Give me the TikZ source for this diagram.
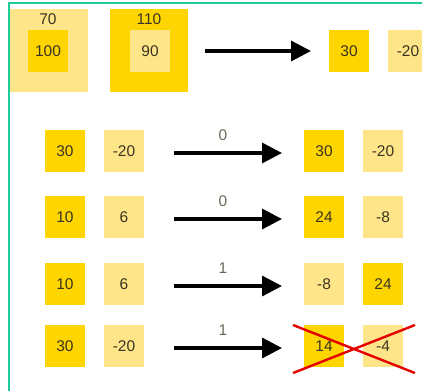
\documentclass[tikz,border=0pt]{standalone}
\usepackage{fontspec}
\setmainfont{Liberation Sans}
\usetikzlibrary{arrows.meta}
\definecolor{gold}{HTML}{FFD500}
\definecolor{pale}{HTML}{FFE58A}
\definecolor{frame}{HTML}{1FCB9B}
\definecolor{ink}{HTML}{3A3420}
\tikzset{
  dk/.style={fill=gold, draw=none, minimum width=40pt, minimum height=42pt, inner sep=0pt, text=ink, font=\fontsize{15.5pt}{16pt}\selectfont},
  lt/.style={dk, fill=pale},
  big/.style={draw=none, minimum width=78pt, minimum height=83pt, inner sep=0pt},
  lbl/.style={text=ink, font=\fontsize{15.5pt}{16pt}\selectfont, inner sep=0pt},
  arr/.style={line width=3.3pt, -{Triangle[length=20pt,width=20pt]}, black},
  cross/.style={red!90!black, line width=2.4pt},
}
\begin{document}
\begin{tikzpicture}[x=1pt,y=-1pt]
\useasboundingbox (0,0) rectangle (422,390);
\begin{scope}
\clip (0,0) rectangle (422,390);
% outer frame
\draw[frame, line width=1.5pt] (9,395) -- (9,3) -- (430,3);

% top row: nested squares
\node[big, fill=pale] (b1) at (49,51) {};
\node[dk] (b1i) at (48,51) {100};
\node[lbl] (b1t) at (48,19) {70};
\node[big, fill=gold] (b2) at (149,51) {};
\node[lt] (b2i) at (150,51) {90};
\node[lbl] (b2t) at (149,19) {110};
\coordinate (a0s) at (205,51);
\coordinate (a0e) at (311,51);
\draw[arr] (a0s) -- (a0e);
\node[dk] (r0a) at (349,51) {30};
\node[lt] (r0b) at (408,51) {-20};

% rows of pairs
\foreach \y/\la/\lb/\c/\ra/\rb/\sa/\sb [count=\i] in
  {151/30/-20/0/30/-20/dk/lt,
   217/10/6/0/24/-8/dk/lt,
   284/10/6/1/-8/24/lt/dk,
   346/30/-20/1/14/-4/dk/lt}{
  \node[dk] (l\i a) at (65,\y) {\la};
  \node[lt] (l\i b) at (124,\y) {\lb};
  \coordinate (s\i) at (174,\y+2);
  \coordinate (e\i) at (282,\y+2);
  \draw[arr] (s\i) -- (e\i);
  \node[lbl, text=ink!75] (c\i) at (223,\y-16) {\c};
  \node[\sa] (r\i a) at (324,\y) {\ra};
  \node[\sb] (r\i b) at (383,\y) {\rb};
}

% red cross over the last result
\coordinate (x1) at (293,325);
\coordinate (x2) at (415,373);
\coordinate (x3) at (293,373);
\coordinate (x4) at (415,325);
\draw[cross] (x1) -- (x2);
\draw[cross] (x3) -- (x4);
\end{scope}
\end{tikzpicture}
\end{document}
